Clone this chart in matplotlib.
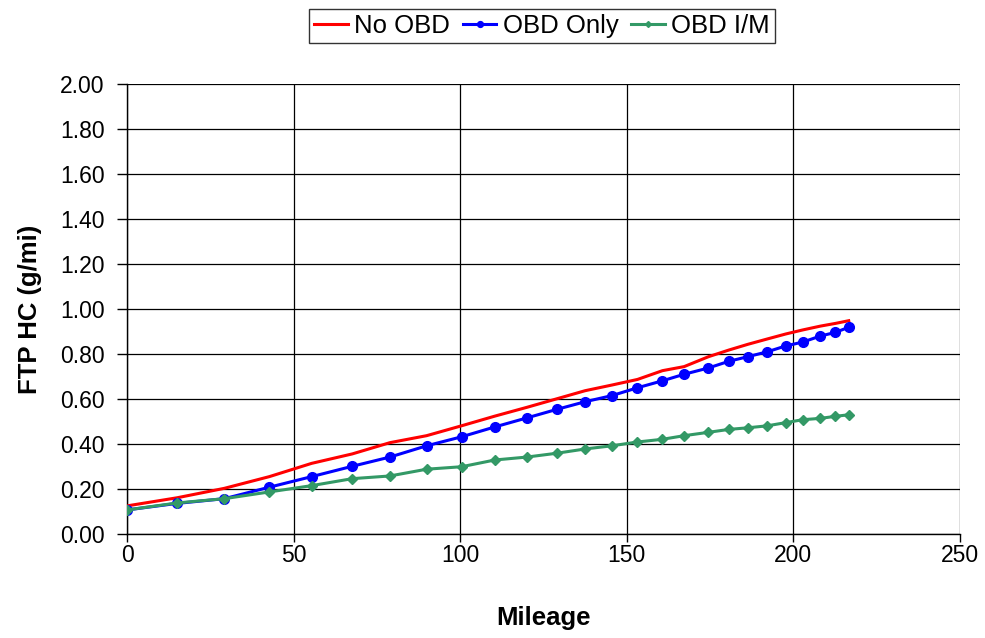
import numpy as np
import matplotlib.pyplot as plt
from matplotlib.ticker import FormatStrFormatter

plt.rcParams['font.family'] = ['Liberation Sans', 'DejaVu Sans']

# mileage (thousands) at each model point
mileage = [0, 15, 29.2, 42.7, 55.4, 67.6, 78.9, 89.9, 100.4, 110.4, 120.0,
           129.0, 137.5, 145.5, 153.2, 160.7, 167.2, 174.5, 180.7, 186.3,
           192.2, 197.7, 202.8, 208.1, 212.6, 216.6]

# FTP HC emissions, g/mi
no_obd = [0.125, 0.161, 0.203, 0.255, 0.314, 0.356, 0.406, 0.437, 0.481, 0.524,
          0.563, 0.601, 0.637, 0.662, 0.687, 0.726, 0.744, 0.788, 0.818, 0.843,
          0.867, 0.889, 0.907, 0.924, 0.936, 0.948]
obd_only = [0.107, 0.136, 0.157, 0.208, 0.255, 0.301, 0.342, 0.392, 0.432, 0.476,
            0.516, 0.554, 0.588, 0.615, 0.650, 0.681, 0.710, 0.738, 0.768, 0.788,
            0.810, 0.836, 0.853, 0.880, 0.896, 0.919]
obd_im = [0.107, 0.138, 0.157, 0.187, 0.215, 0.246, 0.258, 0.288, 0.299, 0.329,
          0.342, 0.359, 0.378, 0.392, 0.409, 0.421, 0.437, 0.452, 0.465, 0.472,
          0.481, 0.495, 0.508, 0.514, 0.523, 0.530]

fig = plt.figure(figsize=(9.85, 6.38), dpi=100)
ax = fig.add_axes([0.129, 0.163, 0.8456, 0.7053])

ax.plot(mileage, no_obd, color='#FF0000', lw=2.2, label='No OBD', zorder=3)
ax.plot(mileage, obd_only, color='#0000FF', lw=2.2, marker='o', ms=7,
        label='OBD Only', zorder=4)
ax.plot(mileage, obd_im, color='#339966', lw=2.2, marker='D', ms=5,
        label='OBD I/M', zorder=5)

ax.set_xlim(0, 250)
ax.set_ylim(0, 2.0)
ax.set_xticks(np.arange(0, 251, 50))
ax.set_yticks(np.arange(0, 2.01, 0.2))
ax.yaxis.set_major_formatter(FormatStrFormatter('%.2f'))
ax.grid(True, color='black', lw=0.9)
ax.set_axisbelow(True)
for s in ['top', 'right']:
    ax.spines[s].set_visible(False)
for s in ['left', 'bottom']:
    ax.spines[s].set_linewidth(1.0)
ax.tick_params(labelsize=16.5, width=1, direction='out')
ax.tick_params(axis='y', length=7, pad=9)
ax.tick_params(axis='x', length=6, pad=1)

ax.set_xlabel('Mileage', fontsize=18.5, fontweight='bold', labelpad=28)
ax.set_ylabel('FTP HC (g/mi)', fontsize=18.5, fontweight='bold', labelpad=13)

leg = fig.legend(loc='center', bbox_to_anchor=(542 / 985, 1 - 26 / 638), ncol=3,
                 fontsize=18.5, frameon=True, fancybox=False, edgecolor='black',
                 handlelength=1.3, columnspacing=0.5, handletextpad=0.25,
                 borderpad=0.2, borderaxespad=0, markerscale=0.6)
leg.get_frame().set_linewidth(1.0)

fig.savefig('out.png', dpi=100)
